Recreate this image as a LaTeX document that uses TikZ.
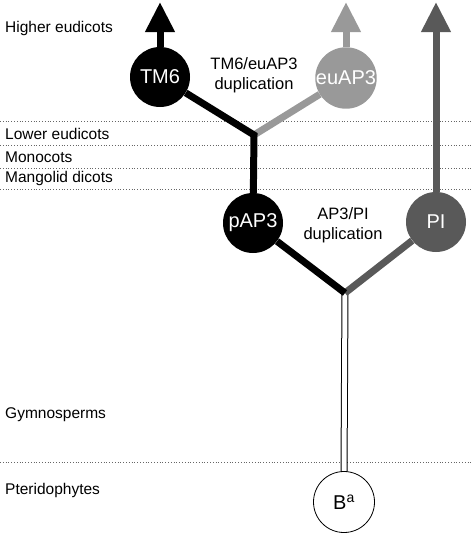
\documentclass[tikz,border=0pt]{standalone}
\usepackage{fontspec}
\setmainfont{Liberation Sans}
\usetikzlibrary{arrows.meta}
\definecolor{lightgene}{gray}{0.6}
\definecolor{darkgene}{gray}{0.35}
\tikzset{
  gene/.style={circle, minimum size=60pt, inner sep=0pt, text=white,
    font=\fontsize{20}{24}\selectfont},
  branch/.style={line width=7pt},
  upbranch/.style={branch, -{Triangle[width=28pt,length=30pt]}},
  clade/.style={anchor=west, inner sep=0pt, font=\fontsize{15.5}{18}\selectfont},
  border/.style={black!60, dotted, line width=0.8pt},
  dupnote/.style={align=center, font=\fontsize{16.5}{20}\selectfont},
}

\begin{document}
\begin{tikzpicture}[x=1pt,y=-1pt]
\useasboundingbox (0,0) rectangle (473,536);

% clade borders
\foreach \y in {121,145,168,189,462}
  \draw[border] (0,\y) -- (473,\y);

\node[clade] (higher) at (5,28) {Higher eudicots};
\node[clade] (lower) at (5,134) {Lower eudicots};
\node[clade] (mono) at (5,157) {Monocots};
\node[clade] (magno) at (5,178) {Mangolid dicots};
\node[clade] (gymno) at (5,415) {Gymnosperms};
\node[clade] (pterido) at (5,490) {Pteridophytes};

% genes
\node[gene, fill=black] (tm6) at (160,77) {TM6};
\node[gene, fill=lightgene] (euap3) at (346,78) {euAP3};
\node[gene, fill=black] (pap3) at (253,223) {pAP3};
\node[gene, fill=darkgene] (pi) at (436,222) {PI};

\coordinate (tmdup) at (254,135);
\coordinate (apdup) at (345,293);
\coordinate (tmtip) at (160,2);
\coordinate (eutip) at (346,2);
\coordinate (pitip) at (436,2);

\node[dupnote] (tmnote) at (254,75) {TM6/euAP3\\duplication};
\node[dupnote] (apnote) at (343,225) {AP3/PI\\duplication};

% ancestral lineage
\draw[line width=1pt, double=white, double distance=5pt] (apdup) -- (344,472);
\node[gene, draw, line width=0.8pt, fill=white, text=black, minimum size=61pt] (b) at (344,502) {B\textsuperscript{a}};

% branches
\draw[branch, darkgene] (pi) -- (apdup);
\draw[branch] (pap3) -- (apdup);
\draw[branch, lightgene] (euap3) -- (tmdup);
\draw[branch, line join=miter] (tm6) -- (tmdup) -- (pap3);

\draw[upbranch] (tm6) -- (tmtip);
\draw[upbranch, lightgene] (euap3) -- (eutip);
\draw[upbranch, darkgene] (pi) -- (pitip);
\end{tikzpicture}
\end{document}
